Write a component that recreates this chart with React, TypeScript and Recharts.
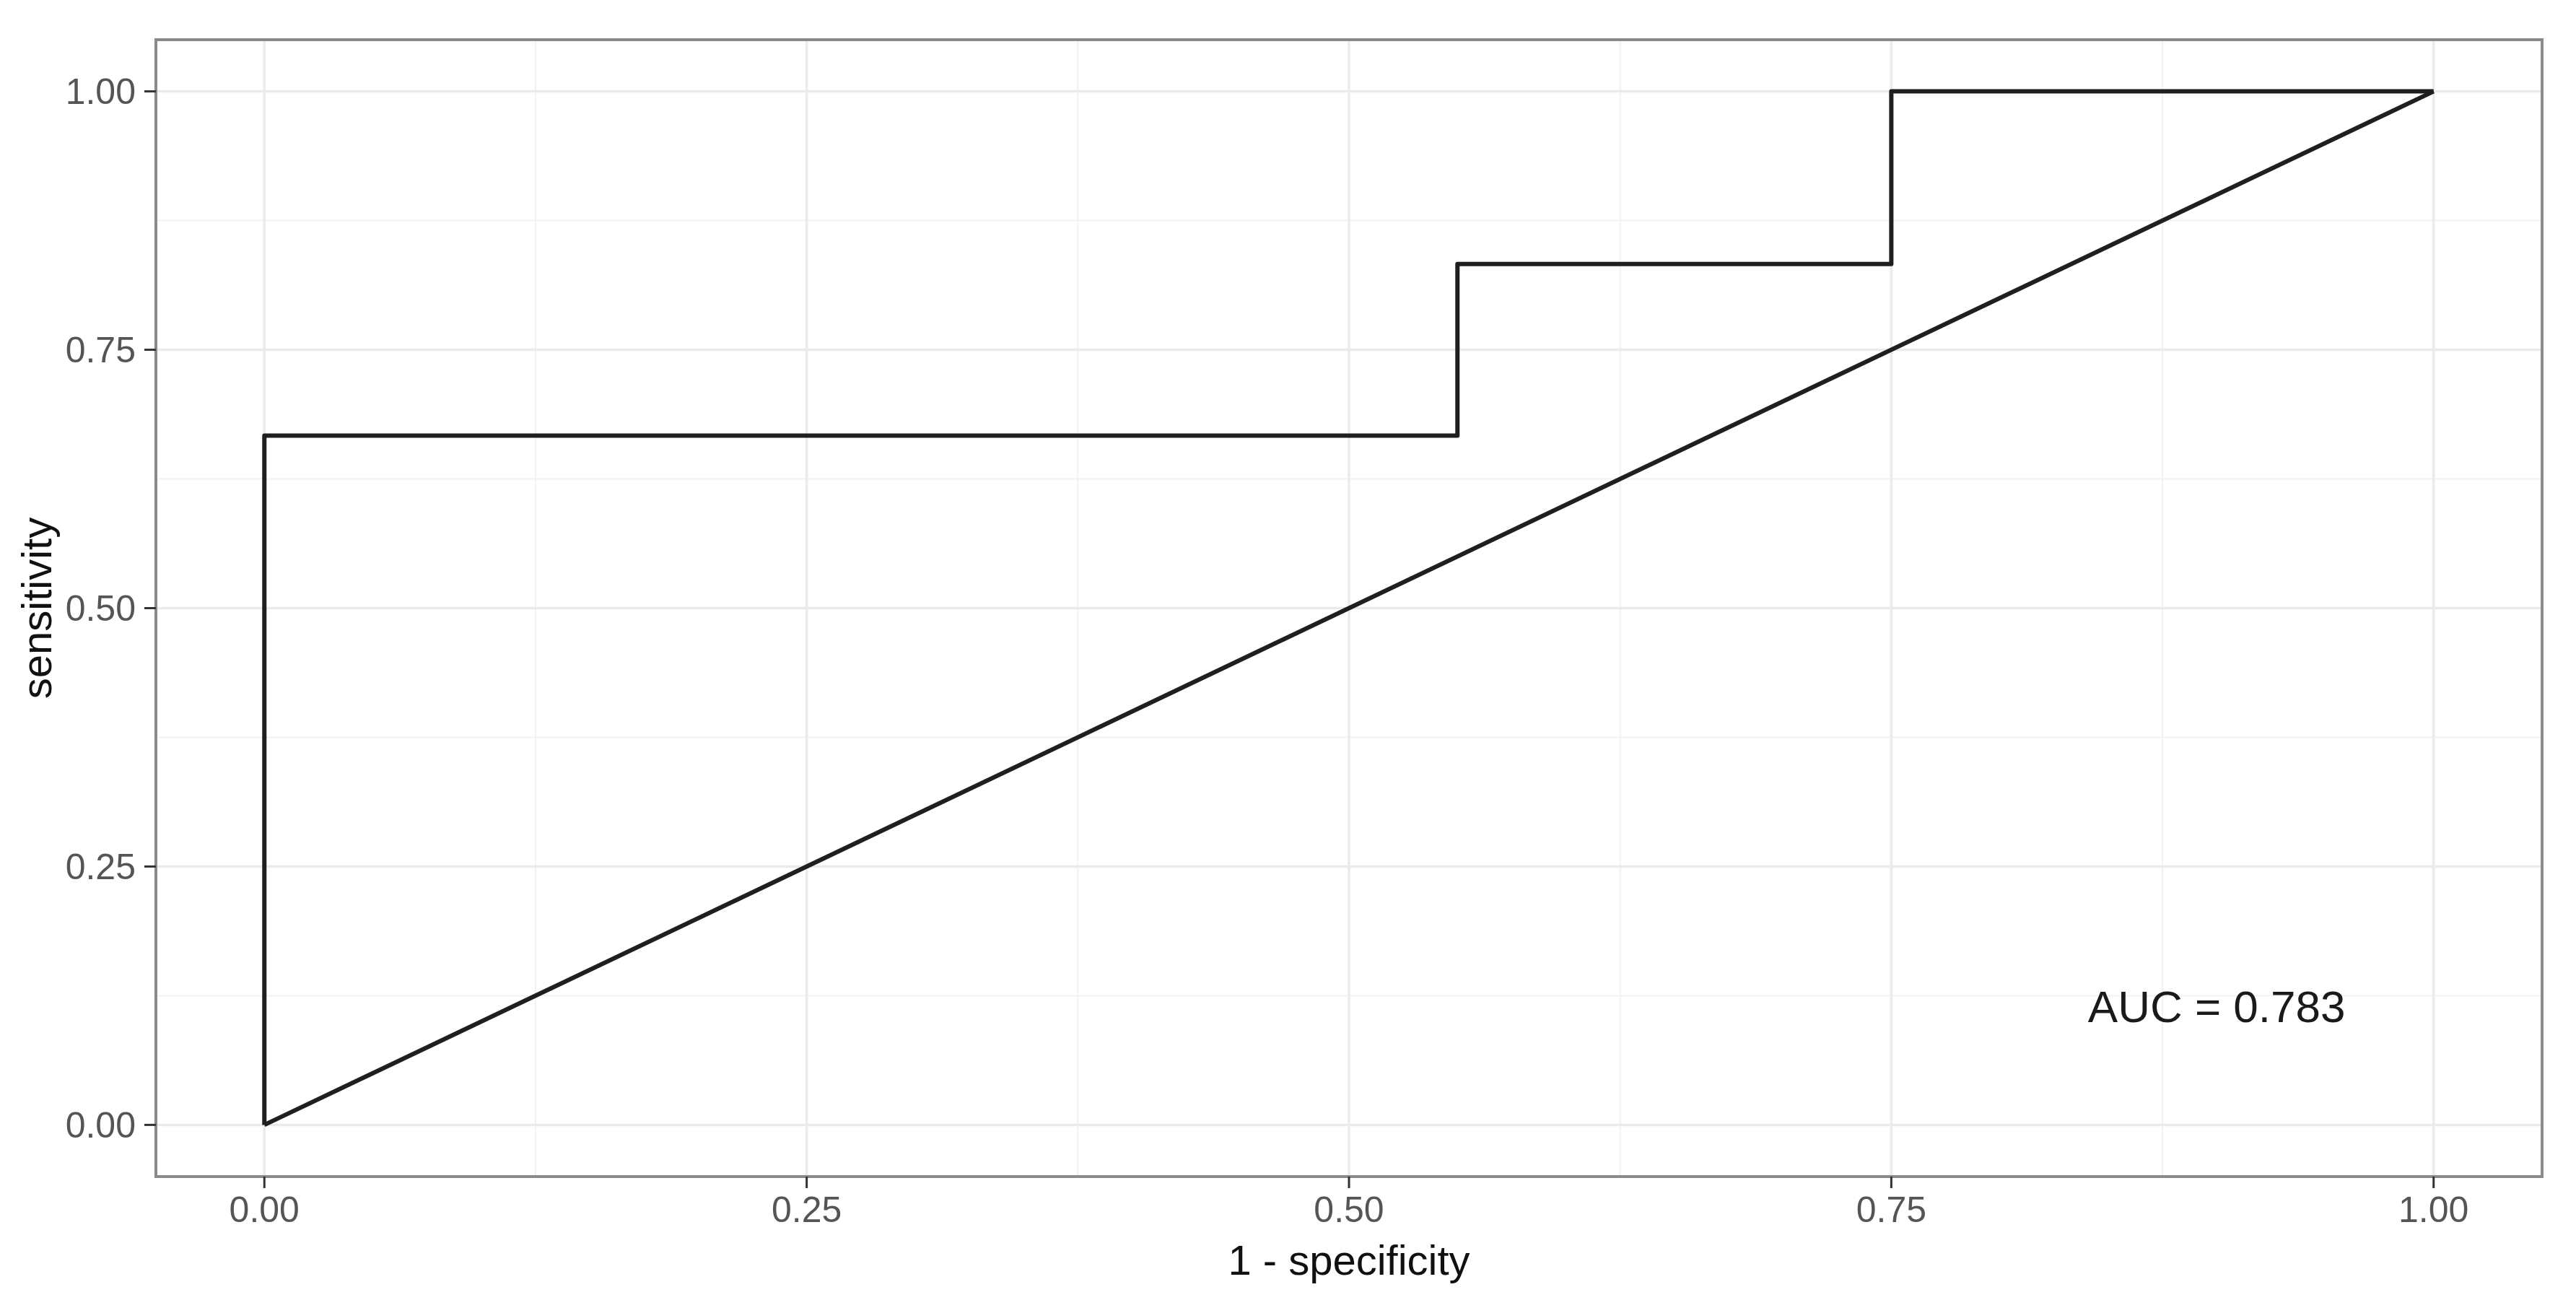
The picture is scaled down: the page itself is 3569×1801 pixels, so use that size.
import React from 'react';
import { LineChart, Line, XAxis, YAxis, CartesianGrid, ReferenceArea, ReferenceDot } from 'recharts';

// ---- data ----
const xTicks = [0, 0.25, 0.5, 0.75, 1];
const yTicks = [0, 0.25, 0.5, 0.75, 1];
const minorX = [0.125, 0.375, 0.625, 0.875];
const minorY = [0.125, 0.375, 0.625, 0.875];
const rocFpr = [0, 0, 0.55, 0.75, 1];
const rocTpr = [0, 0.667, 0.833, 1, 1];
const diagFpr = [0, 1];
const diagTpr = [0, 1];
const aucLabel = 'AUC = 0.783';
const aucPos = [0.9, 0.115];
const xTitle = '1 - specificity';
const yTitle = 'sensitivity';

const rocData = rocFpr.map((x, i) => ({ x, y: rocTpr[i] }));
const diagData = diagFpr.map((x, i) => ({ x, y: diagTpr[i] }));

const FONT = '"Liberation Sans", Arial, sans-serif';
const W = 3569;
const H = 1801;

const XTitle = (props: any) => {
  const vb = props.viewBox || {};
  return (
    <text x={vb.x + vb.width / 2} y={vb.y + 115} textAnchor="middle" dominantBaseline="central"
      fontSize={58} fontFamily={FONT} fill="#111">{xTitle}</text>
  );
};

const YTitle = (props: any) => {
  const vb = props.viewBox || {};
  const cx = vb.x + 50;
  const cy = vb.y + vb.height / 2;
  return (
    <text x={cx} y={cy} textAnchor="middle" dominantBaseline="central" transform={`rotate(-90 ${cx} ${cy})`}
      fontSize={58} fontFamily={FONT} fill="#111">{yTitle}</text>
  );
};

export default function App() {
  return (
    <div style={{ position: 'absolute', left: 0, top: 0, width: W, height: H, background: '#fff' }}>
      <LineChart width={W} height={H} margin={{ top: 55, right: 47, bottom: 0, left: 0 }}>
        <CartesianGrid stroke="#F2F2F2" strokeWidth={2} verticalValues={minorX} horizontalValues={minorY} />
        <CartesianGrid stroke="#EBEBEB" strokeWidth={3.5} verticalValues={xTicks} horizontalValues={yTicks} />
        <XAxis type="number" dataKey="x" domain={[-0.05, 1.05]} ticks={xTicks} allowDataOverflow
          height={171} axisLine={false} tickSize={16} tickMargin={11}
          tickLine={{ stroke: '#333', strokeWidth: 3 }}
          tickFormatter={(v: number) => v.toFixed(2)}
          tick={{ fill: '#555', fontSize: 50, fontFamily: FONT }}
          label={<XTitle />} />
        <YAxis type="number" dataKey="y" domain={[-0.05, 1.05]} ticks={yTicks} allowDataOverflow
          width={216} axisLine={false} tickSize={16} tickMargin={12}
          tickLine={{ stroke: '#333', strokeWidth: 3 }}
          tickFormatter={(v: number) => v.toFixed(2)}
          tick={{ fill: '#555', fontSize: 50, fontFamily: FONT }}
          label={<YTitle />} />
        <ReferenceArea x1={-0.05} x2={1.05} y1={-0.05} y2={1.05} fill="none" fillOpacity={0}
          stroke="#8a8a8a" strokeWidth={4} ifOverflow="visible" />
        <Line data={diagData} dataKey="y" type="linear" stroke="#1f1f1f" strokeWidth={6}
          dot={false} activeDot={false} isAnimationActive={false} strokeLinejoin="round" />
        <Line data={rocData} dataKey="y" type="stepAfter" stroke="#1f1f1f" strokeWidth={6}
          dot={false} activeDot={false} isAnimationActive={false} strokeLinejoin="round" />
        <ReferenceDot x={aucPos[0]} y={aucPos[1]} r={0} fill="none" stroke="none"
          label={{ value: aucLabel, position: 'center', fontSize: 62, fill: '#1a1a1a', fontFamily: FONT }} />
      </LineChart>
    </div>
  );
}
